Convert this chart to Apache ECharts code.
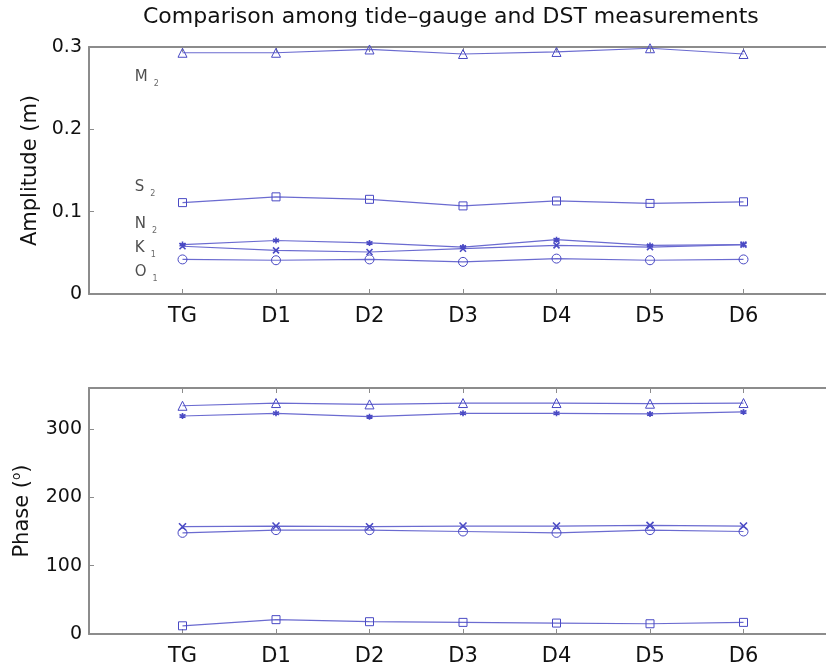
<!DOCTYPE html>
<html>
<head>
<meta charset="utf-8">
<script src="https://cdn.jsdelivr.net/npm/echarts@6/dist/echarts.min.js"></script>
<style>
  html, body { margin: 0; padding: 0; background: #fff; }
  #chart { width: 826px; height: 669px; }
</style>
</head>
<body>
<div id="chart"></div>
<script>
// stations on the x axis
const categories = ['TG', 'D1', 'D2', 'D3', 'D4', 'D5', 'D6'];

// amplitude (m)
const ampM2 = [0.293, 0.293, 0.297, 0.2915, 0.294, 0.2985, 0.2915];
const ampS2 = [0.111, 0.118, 0.115, 0.107, 0.113, 0.110, 0.112];
const ampN2 = [0.060, 0.065, 0.062, 0.057, 0.066, 0.059, 0.060];
const ampK1 = [0.058, 0.053, 0.051, 0.055, 0.059, 0.057, 0.060];
const ampO1 = [0.042, 0.041, 0.042, 0.039, 0.043, 0.041, 0.042];

// phase (deg)
const phM2 = [334, 338, 336, 338, 338, 337, 338];
const phN2 = [319, 323, 318, 323, 323, 322, 325];
const phK1 = [157, 158, 157, 158, 158, 159, 158];
const phO1 = [148, 152, 152, 150, 148, 152, 150];
const phS2 = [12, 21, 18, 17, 16, 15, 17];

// constituent names written inside the upper panel
const tagNames = ['M', 'S', 'N', 'K', 'O'];
const tagSubs = ['2', '2', '2', '1', '1'];
const tagY = [0.264, 0.130, 0.085, 0.056, 0.027];
const tagX = 0.49;

const ampTicks = [0, 0.1, 0.2, 0.3];
const phaseTicks = [0, 100, 200, 300];

const FONT = 'DejaVu Sans';
const LINE = '#6b6bd0';
const MARK = '#4a4ac4';
const GRAY = '#8c8c8c';

const STAR = 'path://M0,-5L0,5M-4.33,-2.5L4.33,2.5M-4.33,2.5L4.33,-2.5';
const CROSS = 'path://M-4,-4L4,4M-4,4L4,-4';

const myChart = echarts.init(document.getElementById('chart'));

// 每条线的样式
function lineSeries(name, values, symbol, size, xi, yi, filled) {
  return {
    name: name,
    type: 'line',
    xAxisIndex: xi,
    yAxisIndex: yi,
    data: values.map((v, i) => [i + 1, v]),
    symbol: symbol,
    symbolSize: size,
    showAllSymbol: true,
    lineStyle: { color: LINE, width: 1.2 },
    itemStyle: {
      color: filled ? MARK : 'rgba(0,0,0,0)',
      borderColor: MARK,
      borderWidth: filled ? 1.6 : 1
    },
    emphasis: { disabled: true },
    z: 3
  };
}

function xAxisDef(gi, pos, showLabel) {
  return {
    type: 'value',
    gridIndex: gi,
    position: pos,
    min: 0,
    max: 8,
    interval: 1,
    axisLine: { show: true, onZero: false, lineStyle: { color: GRAY, width: 2 } },
    axisTick: { show: true, inside: true, length: 5, lineStyle: { color: GRAY } },
    splitLine: { show: false },
    axisLabel: {
      show: showLabel,
      margin: 12,
      color: '#111',
      fontFamily: FONT,
      fontSize: 21,
      formatter: v => categories[v - 1] || ''
    }
  };
}

function yAxisDef(gi, min, max, interval, name, nameGap, fmt) {
  return {
    type: 'value',
    gridIndex: gi,
    min: min,
    max: max,
    interval: interval,
    name: name,
    nameLocation: 'middle',
    nameGap: nameGap,
    nameTextStyle: {
      color: '#111',
      fontFamily: FONT,
      fontSize: 21,
      rich: {
        a: { fontFamily: FONT, fontSize: 21, color: '#111' },
        sup: { fontFamily: FONT, fontSize: 12, color: '#111', padding: [0, 0, 11, 0] }
      }
    },
    axisLine: { show: true, lineStyle: { color: GRAY, width: 2 } },
    axisTick: { show: true, inside: true, length: 5, lineStyle: { color: GRAY } },
    splitLine: { show: false },
    axisLabel: {
      margin: 7,
      color: '#111',
      fontFamily: FONT,
      fontSize: 19,
      formatter: fmt
    }
  };
}

const option = {
  animation: false,
  backgroundColor: '#fff',
  graphic: [
    {
      type: 'text',
      left: 143,
      top: 6,
      style: {
        text: 'Comparison among tide\u2013gauge and DST measurements',
        fontFamily: FONT,
        fontSize: 22,
        fill: '#111'
      }
    }
  ],
  grid: [
    { left: 89, top: 47, right: -11, height: 247, outerBoundsMode: 'none', containLabel: false },
    { left: 89, top: 388, right: -11, height: 246, outerBoundsMode: 'none', containLabel: false }
  ],
  xAxis: [
    xAxisDef(0, 'bottom', true),
    xAxisDef(0, 'top', false),
    xAxisDef(1, 'bottom', true),
    xAxisDef(1, 'top', false)
  ],
  yAxis: [
    yAxisDef(0, 0, 0.3, 0.1, 'Amplitude (m)', 47,
      v => (ampTicks.indexOf(Math.round(v * 10) / 10) >= 0 ? String(Math.round(v * 10) / 10) : '')),
    yAxisDef(1, 0, 360, 100, '{a|Phase (}{sup|o}{a|)}', 55,
      v => (phaseTicks.indexOf(v) >= 0 ? String(v) : ''))
  ],
  series: [
    lineSeries('M2', ampM2, 'triangle', 9, 0, 0, false),
    lineSeries('S2', ampS2, 'rect', 8, 0, 0, false),
    lineSeries('N2', ampN2, STAR, 6, 0, 0, true),
    lineSeries('K1', ampK1, CROSS, 6, 0, 0, true),
    lineSeries('O1', ampO1, 'circle', 9, 0, 0, false),
    lineSeries('M2', phM2, 'triangle', 9, 2, 1, false),
    lineSeries('N2', phN2, STAR, 6, 2, 1, true),
    lineSeries('K1', phK1, CROSS, 7, 2, 1, true),
    lineSeries('O1', phO1, 'circle', 9, 2, 1, false),
    lineSeries('S2', phS2, 'rect', 8, 2, 1, false),
    {
      name: 'tags',
      type: 'scatter',
      xAxisIndex: 0,
      yAxisIndex: 0,
      symbolSize: 0,
      silent: true,
      data: tagY.map(y => [tagX, y]),
      label: {
        show: true,
        position: 'right',
        distance: 0,
        formatter: p => '{b|' + tagNames[p.dataIndex] + '}{s|' + tagSubs[p.dataIndex] + '}',
        rich: {
          b: { fontFamily: FONT, fontSize: 15, color: '#222' },
          s: { fontFamily: FONT, fontSize: 8, color: '#444', padding: [14, 0, 0, 6] }
        }
      },
      z: 5
    }
  ]
};
myChart.setOption(option);
</script>
</body>
</html>
